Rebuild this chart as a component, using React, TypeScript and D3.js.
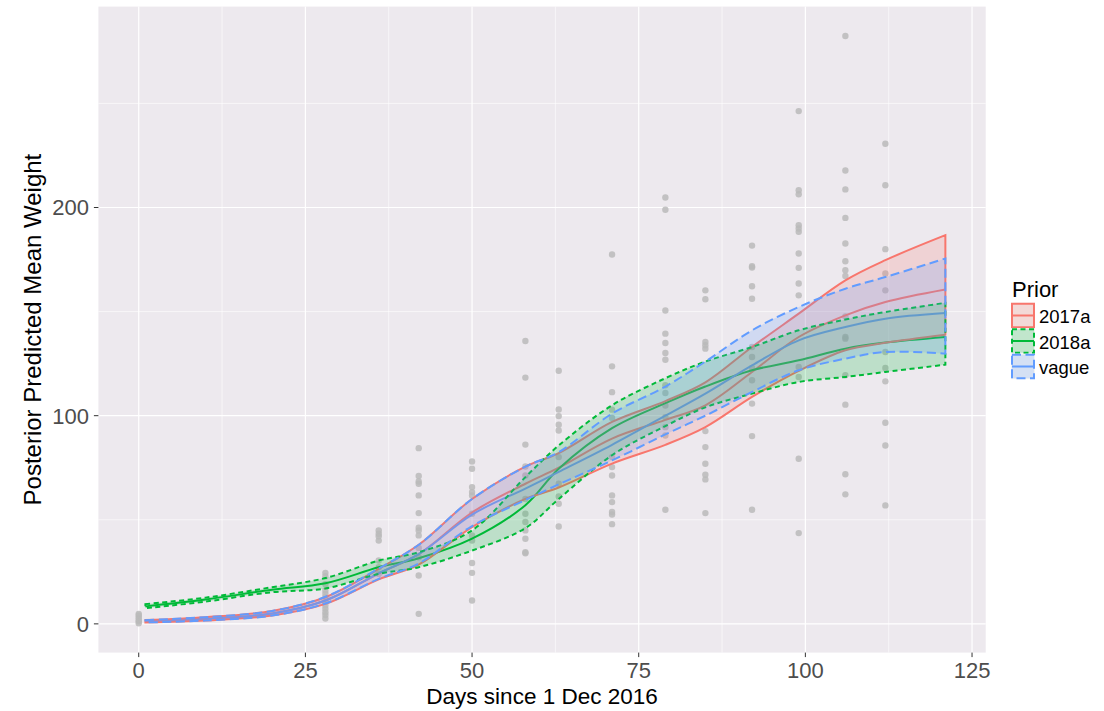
import * as d3 from "d3";

const W = 1104;
const H = 711;
const FONT = "'Liberation Sans', Arial, Helvetica, sans-serif";

// prediction grid (days) and posterior bands
const gridDays = [1, 10, 20, 28, 36, 42, 50, 58, 63, 71, 79, 85, 92, 99, 106, 112, 121];

const lo2017a = [0.7, 1.6, 4.0, 9.6, 21.4, 28.5, 46.5, 60, 65.5, 77, 86, 94.5, 109, 121.5, 131.4, 135, 138.9];
const mid2017a = [1.2, 2.4, 5.0, 11.2, 24.2, 33.5, 53.5, 67.3, 75, 89, 98, 105, 121, 137.8, 148.2, 154.6, 160.6];
const hi2017a = [1.8, 3.2, 6.2, 12.8, 26.4, 38, 60, 75.5, 82, 97, 107, 116, 133, 149, 165, 174.7, 186.7];

const lo2018a = [7.5, 10.7, 15.2, 17, 24, 27.2, 35.2, 46, 60, 81, 95, 104, 110.6, 116.2, 118.6, 121, 124.5];
const mid2018a = [8.4, 11.7, 16.4, 19.5, 27.2, 31.5, 40.9, 57, 74.5, 94, 106, 114, 121.8, 126.6, 132.2, 135.1, 137.8];
const hi2018a = [9.5, 12.6, 17.6, 22, 30.4, 34.4, 44.9, 70.5, 85.7, 105, 118, 126, 133, 141, 146.2, 149.8, 154.2];

const loVague = [0.7, 1.6, 4.0, 9.8, 21.6, 29, 47, 59.5, 67, 78.5, 91, 100, 111.4, 121.8, 127.4, 130.6, 129.8];
const midVague = [1.2, 2.4, 5.0, 11.2, 24.3, 33.5, 52.5, 65, 73, 86, 100, 110.6, 124.2, 136.2, 142.6, 146.6, 149.3];
const hiVague = [1.8, 3.2, 6.2, 13, 26.6, 38, 60, 75.5, 82.5, 101, 114, 126, 141, 152.2, 161, 166.6, 175.5];

const priors = ["2017a", "2018a", "vague"];
const priorColors = ["#F8766D", "#00BA38", "#619CFF"];
const priorDash = ["none", "5,3.5", "9,4.5"];

// observed weights by sampling day
const sampleDays = [0, 28, 36, 42, 50, 58, 63, 71, 79, 85, 92, 99, 106, 112];
const sampleWeights: number[][] = [
  [0.3, 1.2, 2.0, 3.0, 4.0, 4.8],
  [2.6, 4.2, 5.6, 7.2, 8.8, 10.4, 12.8, 14.5, 16, 19, 22.9, 24.5],
  [24, 27.2, 30.4, 40, 42.1, 43.3, 44.9],
  [4.8, 23.2, 32, 36.5, 42.5, 44.9, 46.2, 53.2, 61.7, 67.3, 68.4, 71, 84.4],
  [11.2, 24.5, 29.2, 40, 42.5, 52.9, 61.7, 63.3, 65.7, 74.5, 78],
  [33.9, 34.4, 40.9, 44.9, 48.9, 52.9, 60, 71.3, 75.6, 86.1, 118.3, 135.9],
  [46.8, 57.7, 61.2, 67.3, 80.1, 92.9, 95.7, 99.8, 103, 121.6],
  [47.9, 52.5, 53.7, 58.5, 61.7, 71.3, 75.3, 80.1, 98.9, 102.9, 111.3, 123.7, 177.4],
  [54.8, 90.5, 94.5, 99.3, 104.9, 110.9, 114.6, 126.9, 130.1, 134.9, 139.4, 150.5, 198.9, 204.8],
  [53.2, 69.4, 71.6, 76.9, 84.9, 92.6, 132.2, 133.8, 135.4, 155.9, 160.2],
  [54.8, 90.2, 105.8, 117, 122.9, 128.2, 133, 156.2, 162.2, 171.2, 171.8, 181.7],
  [43.6, 79.3, 118.6, 123.4, 157.8, 163.5, 171, 177.9, 188.3, 189.9, 191.5, 206.4, 208.3, 246.3],
  [62.2, 71.9, 105.3, 119.4, 137, 137.8, 147.7, 167.1, 169.9, 174.2, 182.7, 195, 208.7, 217.8, 282.4],
  [56.9, 85.7, 96.6, 116.5, 122.9, 130.6, 160.2, 168.3, 180, 210.7, 230.6],
];

const xMajor = [0, 25, 50, 75, 100, 125];
const xMinor = [12.5, 37.5, 62.5, 87.5, 112.5];
const yMajor = [0, 100, 200];
const yMinor = [50, 150, 250];

type Row = { day: number; lo: number; mid: number; hi: number };

const bands = [
  [lo2017a, mid2017a, hi2017a],
  [lo2018a, mid2018a, hi2018a],
  [loVague, midVague, hiVague],
].map(([lo, mid, hi]) =>
  gridDays.map((day, i): Row => ({ day, lo: lo[i], mid: mid[i], hi: hi[i] }))
);

const points = sampleDays.flatMap((day, i) => sampleWeights[i].map((w) => ({ day, w })));

const panel = { left: 98.4, right: 985.7, top: 6.6, bottom: 652.6 };

function expand([a, b]: [number, number]): [number, number] {
  const pad = (b - a) * 0.05;
  return [a - pad, b + pad];
}

const xAll = [...gridDays, ...sampleDays];
const yAll = [...points.map((p) => p.w), ...bands.flat().flatMap((r) => [r.lo, r.hi])];

const x = d3
  .scaleLinear()
  .domain(expand(d3.extent(xAll) as [number, number]))
  .range([panel.left, panel.right]);
const y = d3
  .scaleLinear()
  .domain(expand(d3.extent(yAll) as [number, number]))
  .range([panel.bottom, panel.top]);

const curve = d3.curveCatmullRom.alpha(0.5);

const area = d3
  .area<Row>()
  .x((d) => x(d.day))
  .y0((d) => y(d.lo))
  .y1((d) => y(d.hi))
  .curve(curve);

const line = d3
  .line<Row>()
  .x((d) => x(d.day))
  .y((d) => y(d.mid))
  .curve(curve);

const App = () => {
  const legendX = 1012;
  const keyW = 22;
  const keyH = 23.5;
  const keyCy = (i: number) => 315.5 + i * 25.5;

  return (
    <svg
      width={W}
      height={H}
      style={{ position: "absolute", left: 0, top: 0, background: "#fff" }}
      fontFamily={FONT}
    >
      <rect
        x={panel.left}
        y={panel.top}
        width={panel.right - panel.left}
        height={panel.bottom - panel.top}
        fill="#EDE9EE"
      />
      {xMinor.map((v) => (
        <line key={"xm" + v} x1={x(v)} x2={x(v)} y1={panel.top} y2={panel.bottom} stroke="#fff" strokeWidth={0.6} />
      ))}
      {yMinor.map((v) => (
        <line key={"ym" + v} x1={panel.left} x2={panel.right} y1={y(v)} y2={y(v)} stroke="#fff" strokeWidth={0.6} />
      ))}
      {xMajor.map((v) => (
        <line key={"xM" + v} x1={x(v)} x2={x(v)} y1={panel.top} y2={panel.bottom} stroke="#fff" strokeWidth={1.2} />
      ))}
      {yMajor.map((v) => (
        <line key={"yM" + v} x1={panel.left} x2={panel.right} y1={y(v)} y2={y(v)} stroke="#fff" strokeWidth={1.2} />
      ))}

      {points.map((p, i) => (
        <circle key={"p" + i} cx={x(p.day)} cy={y(p.w)} r={3.2} fill="#BABABA" fillOpacity={0.85} />
      ))}

      {bands.map((rows, i) => (
        <path
          key={"m" + i}
          d={line(rows) ?? ""}
          fill="none"
          stroke={priorColors[i]}
          strokeWidth={2}
        />
      ))}

      {bands.map((rows, i) => (
        <path
          key={"b" + i}
          d={area(rows) ?? ""}
          fill={priorColors[i]}
          fillOpacity={0.2}
          stroke={priorColors[i]}
          strokeWidth={2}
          strokeDasharray={priorDash[i]}
        />
      ))}

      {/* x axis */}
      {xMajor.map((v) => (
        <g key={"xt" + v}>
          <line x1={x(v)} x2={x(v)} y1={panel.bottom} y2={panel.bottom + 4.5} stroke="#333" strokeWidth={1} />
          <text x={x(v)} y={678} textAnchor="middle" fontSize={22} fill="#4D4D4D">
            {v}
          </text>
        </g>
      ))}
      {/* y axis */}
      {yMajor.map((v) => (
        <g key={"yt" + v}>
          <line x1={panel.left - 4.5} x2={panel.left} y1={y(v)} y2={y(v)} stroke="#333" strokeWidth={1} />
          <text x={89} y={y(v)} dy="0.36em" textAnchor="end" fontSize={22} fill="#4D4D4D">
            {v}
          </text>
        </g>
      ))}

      <text x={(panel.left + panel.right) / 2} y={703.5} textAnchor="middle" fontSize={22.5} fill="#000">
        Days since 1 Dec 2016
      </text>
      <text
        transform={`translate(41,${(panel.top + panel.bottom) / 2}) rotate(-90)`}
        textAnchor="middle"
        fontSize={24}
        fill="#000"
      >
        Posterior Predicted Mean Weight
      </text>

      {/* legend */}
      <text x={legendX} y={297} fontSize={22} fill="#000">
        Prior
      </text>
      {priors.map((p, i) => {
        const cy = keyCy(i);
        return (
          <g key={"lg" + p}>
            <rect x={legendX - 1} y={cy - keyH / 2 - 1} width={keyW + 2} height={keyH + 2} fill="#F2F2F2" />
            <rect
              x={legendX}
              y={cy - keyH / 2}
              width={keyW}
              height={keyH}
              fill={priorColors[i]}
              fillOpacity={0.2}
              stroke={priorColors[i]}
              strokeWidth={2}
              strokeDasharray={priorDash[i]}
            />
            <line x1={legendX} x2={legendX + keyW} y1={cy} y2={cy} stroke={priorColors[i]} strokeWidth={2} />
            <text x={legendX + 27} y={cy + 7.5} fontSize={18.5} fill="#000">
              {p}
            </text>
          </g>
        );
      })}
    </svg>
  );
};

export default App;
